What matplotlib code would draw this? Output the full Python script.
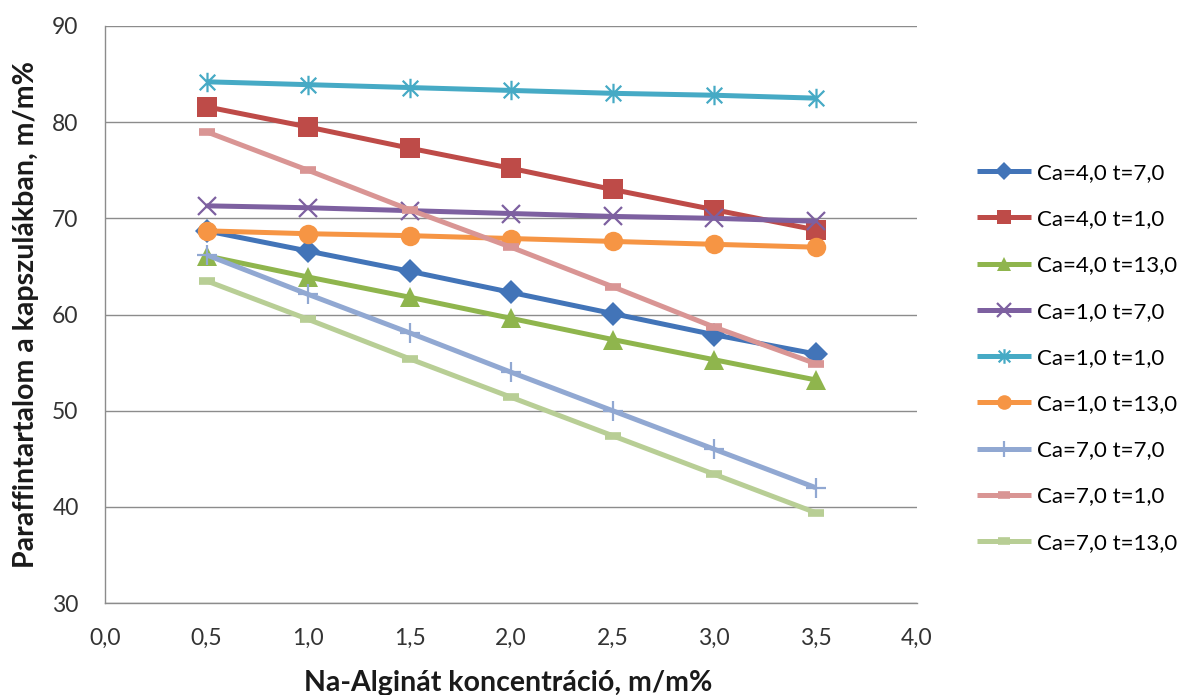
import matplotlib
matplotlib.use("Agg")
import matplotlib.pyplot as plt
from matplotlib.path import Path
from matplotlib.ticker import FixedLocator, FuncFormatter

plt.rcParams['font.family'] = ['Lato', 'DejaVu Sans']

x = [0.5, 1.0, 1.5, 2.0, 2.5, 3.0, 3.5]

labels = ["Ca=4,0 t=7,0", "Ca=4,0 t=1,0", "Ca=4,0 t=13,0",
          "Ca=1,0 t=7,0", "Ca=1,0 t=1,0", "Ca=1,0 t=13,0",
          "Ca=7,0 t=7,0", "Ca=7,0 t=1,0", "Ca=7,0 t=13,0"]

ca4_t7 = [68.7, 66.6, 64.5, 62.3, 60.1, 57.9, 55.9]
ca4_t1 = [81.6, 79.5, 77.3, 75.2, 73.0, 70.9, 68.8]
ca4_t13 = [66.1, 63.9, 61.8, 59.6, 57.4, 55.3, 53.2]
ca1_t7 = [71.3, 71.1, 70.8, 70.5, 70.2, 70.0, 69.7]
ca1_t1 = [84.2, 83.9, 83.6, 83.3, 83.0, 82.8, 82.5]
ca1_t13 = [68.7, 68.4, 68.2, 67.9, 67.6, 67.3, 67.0]
ca7_t7 = [66.2, 62.1, 58.1, 54.0, 50.0, 46.0, 42.0]
ca7_t1 = [79.0, 75.0, 70.9, 67.0, 62.9, 58.7, 54.9]
ca7_t13 = [63.5, 59.5, 55.4, 51.4, 47.4, 43.4, 39.4]

series = [ca4_t7, ca4_t1, ca4_t13, ca1_t7, ca1_t1, ca1_t13, ca7_t7, ca7_t1, ca7_t13]
colors = ['#4274B8', '#BE4B48', '#8FB54D', '#7D60A0', '#46AAC5', '#F69544',
          '#91A8D2', '#D99594', '#B8CE95']

x_ticks = [0.0, 0.5, 1.0, 1.5, 2.0, 2.5, 3.0, 3.5, 4.0]
y_ticks = [30, 40, 50, 60, 70, 80, 90]

# Excel-like star: X plus vertical bar
star = Path([(-1, -1), (1, 1), (-1, 1), (1, -1), (0, -1.25), (0, 1.25)],
            [Path.MOVETO, Path.LINETO, Path.MOVETO, Path.LINETO, Path.MOVETO, Path.LINETO])

styles = [
    dict(marker='D', ms=12, mew=0),
    dict(marker='s', ms=14, mew=0),
    dict(marker='^', ms=14, mew=0),
    dict(marker='x', ms=13, mew=1.6),
    dict(marker=star, ms=14, mew=1.6, mfc='none'),
    dict(marker='o', ms=14, mew=0),
    dict(marker='+', ms=15, mew=1.6),
    dict(marker='_', ms=11, mew=5.5),
    dict(marker='_', ms=11, mew=5.5),
]

fig = plt.figure(figsize=(11.87, 6.95), dpi=100)
ax = fig.add_axes([105/1187, 1 - 603/695, (917 - 105)/1187, (603 - 26)/695])

for ys, lab, c, st in zip(series, labels, colors, styles):
    ax.plot(x, ys, color=c, lw=3.6, label=lab, mec=c, mfc=st.pop('mfc', c), **st,
            solid_capstyle='butt', zorder=3)

ax.set_xlim(0, 4)
ax.set_ylim(30, 90)
ax.xaxis.set_major_locator(FixedLocator(x_ticks))
ax.yaxis.set_major_locator(FixedLocator(y_ticks))
ax.xaxis.set_major_formatter(FuncFormatter(lambda v, p: f"{v:.1f}".replace('.', ',')))
ax.yaxis.set_major_formatter(FuncFormatter(lambda v, p: f"{int(v)}"))
ax.tick_params(axis='both', length=0, labelsize=16.5, colors='#333333')
ax.tick_params(axis='y', pad=19)
ax.tick_params(axis='x', pad=18)
ax.grid(axis='y', color='#8C8C8C', lw=1)
ax.set_axisbelow(True)
for s in ['top', 'right']:
    ax.spines[s].set_visible(False)
for s in ['left', 'bottom']:
    ax.spines[s].set_color('#8C8C8C')
    ax.spines[s].set_linewidth(1)

fig.text(508/1187, 1 - 683/695, "Na-Alginát koncentráció, m/m%", ha='center', va='center',
         fontsize=20.5, fontweight='bold', color='#1a1a1a')
fig.text(26/1187, 1 - 315/695, "Paraffintartalom a kapszulákban, m/m%", ha='center', va='center',
         rotation=90, fontsize=20.5, fontweight='bold', color='#1a1a1a')

leg = ax.legend(loc='upper left', bbox_to_anchor=(957/1187, 1 - 143/695),
                bbox_transform=fig.transFigure, frameon=False, fontsize=16,
                handlelength=2.45, handletextpad=0.27, labelspacing=1.18, markerscale=0.75)

fig.savefig('out.png', dpi=100)
